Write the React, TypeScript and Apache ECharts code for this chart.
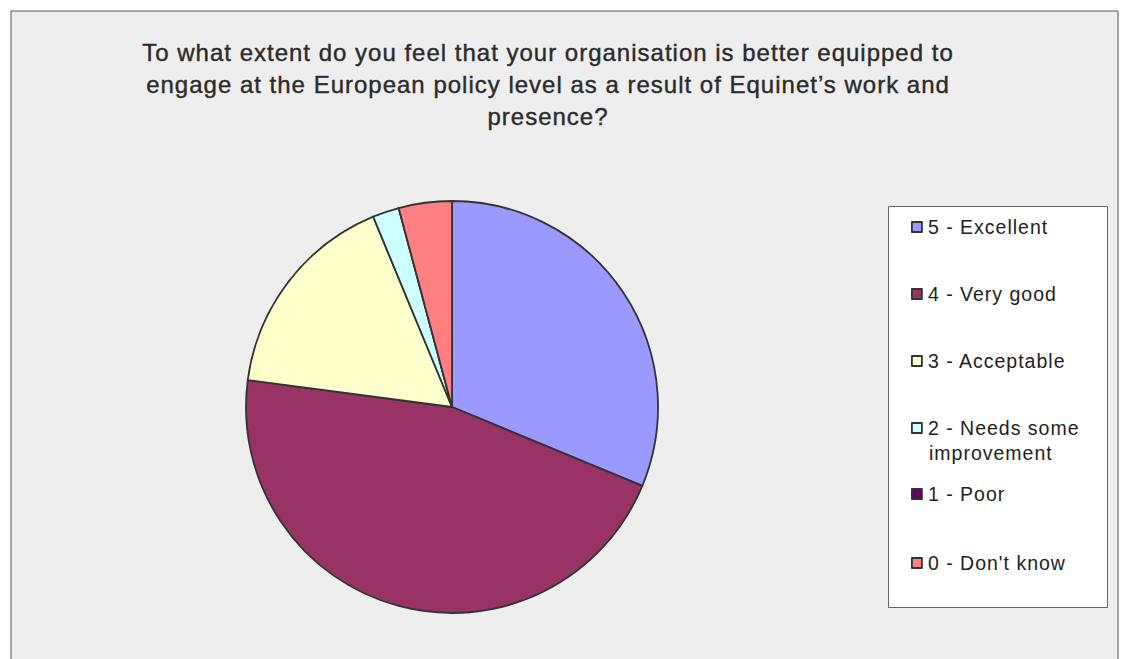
import React, { useEffect, useRef } from "react";
import * as echarts from "echarts";

const titleLines = [
  "To what extent do you feel that your organisation is better equipped to",
  "engage at the European policy level as a result of Equinet\u2019s work and",
  "presence?",
];
const categories = [
  "5 - Excellent",
  "4 - Very good",
  "3 - Acceptable",
  "2 - Needs some improvement",
  "1 - Poor",
  "0 - Don't know",
];
// first line shown next to the legend marker, optional continuation line below
const legendFirstLines = [
  "5 - Excellent",
  "4 - Very good",
  "3 - Acceptable",
  "2 - Needs some",
  "1 - Poor",
  "0 - Don't know",
];
const legendSecondLines = ["", "", "", "improvement", "", ""];
const values = [15, 22, 8, 1, 0, 2];
const colors = ["#9999ff", "#993366", "#ffffcc", "#ccffff", "#660066", "#ff8080"];

const legendCenters = [227, 294, 361, 428, 494, 563];
const FONT = "'Liberation Sans', Arial, sans-serif";
const LEGEND_FS = 19.5;
const TEXT_COLOR = "#222";

export default function App() {
  const ref = useRef<HTMLDivElement>(null);
  useEffect(() => {
    if (!ref.current) return;
    const chart = echarts.init(ref.current, undefined, { renderer: "svg" });
    const legends = categories.map((name, i) => ({
      orient: "vertical",
      left: 911,
      top: legendCenters[i] - 10.5,
      padding: 0,
      data: [name],
      icon: "rect",
      itemWidth: 10,
      itemHeight: 10,
      itemGap: 0,
      selectedMode: false,
      itemStyle: { borderColor: "#333", borderWidth: 1.8 },
      formatter: () => legendFirstLines[i],
      textStyle: {
        fontFamily: FONT,
        fontSize: LEGEND_FS,
        color: TEXT_COLOR,
        lineHeight: 21,
        padding: [0, 0, 0, 1],
      },
    }));
    const continuation = legendSecondLines
      .map((t, i) => ({ t, i }))
      .filter((d) => d.t)
      .map((d) => ({
        type: "text",
        x: 929,
        y: legendCenters[d.i] + 25,
        silent: true,
        style: {
          text: d.t,
          fontFamily: FONT,
          fontSize: LEGEND_FS,
          fill: TEXT_COLOR,
          textAlign: "left",
          textVerticalAlign: "middle",
        },
      }));
    chart.setOption({
      animation: false,
      backgroundColor: "#ffffff",
      graphic: [
        {
          type: "rect",
          z: -10,
          shape: { x: 11, y: 11, width: 1107, height: 700 },
          style: { fill: "#eeeeee", stroke: "#555", lineWidth: 1 },
          silent: true,
        },
        {
          type: "rect",
          z: -5,
          shape: { x: 888.5, y: 206.5, width: 219, height: 401 },
          style: { fill: "#ffffff", stroke: "#666", lineWidth: 1 },
          silent: true,
        },
        {
          type: "text",
          x: 548,
          y: 36,
          style: {
            text: titleLines.join("\n"),
            fontFamily: FONT,
            fontSize: 24,
            lineHeight: 32,
            fill: "#2b2b2b",
            stroke: "#2b2b2b",
            lineWidth: 0.4,
            textAlign: "center",
            textVerticalAlign: "top",
          },
          silent: true,
        },
        ...continuation,
      ],
      legend: legends,
      series: [
        {
          type: "pie",
          center: [452, 407],
          radius: 206,
          startAngle: 90,
          clockwise: true,
          data: categories.map((name, i) => ({
            name,
            value: values[i],
            itemStyle: { color: colors[i] },
          })),
          label: { show: false },
          labelLine: { show: false },
          emphasis: { disabled: true },
          itemStyle: { borderColor: "#333", borderWidth: 1.8 },
        },
      ],
    });
    return () => chart.dispose();
  }, []);
  return (
    <>
      <style>{`#chart-host svg text { letter-spacing: 1px; }`}</style>
      <div
        id="chart-host"
        ref={ref}
        style={{ position: "absolute", left: 0, top: 0, width: 1125, height: 659 }}
      />
    </>
  );
}
